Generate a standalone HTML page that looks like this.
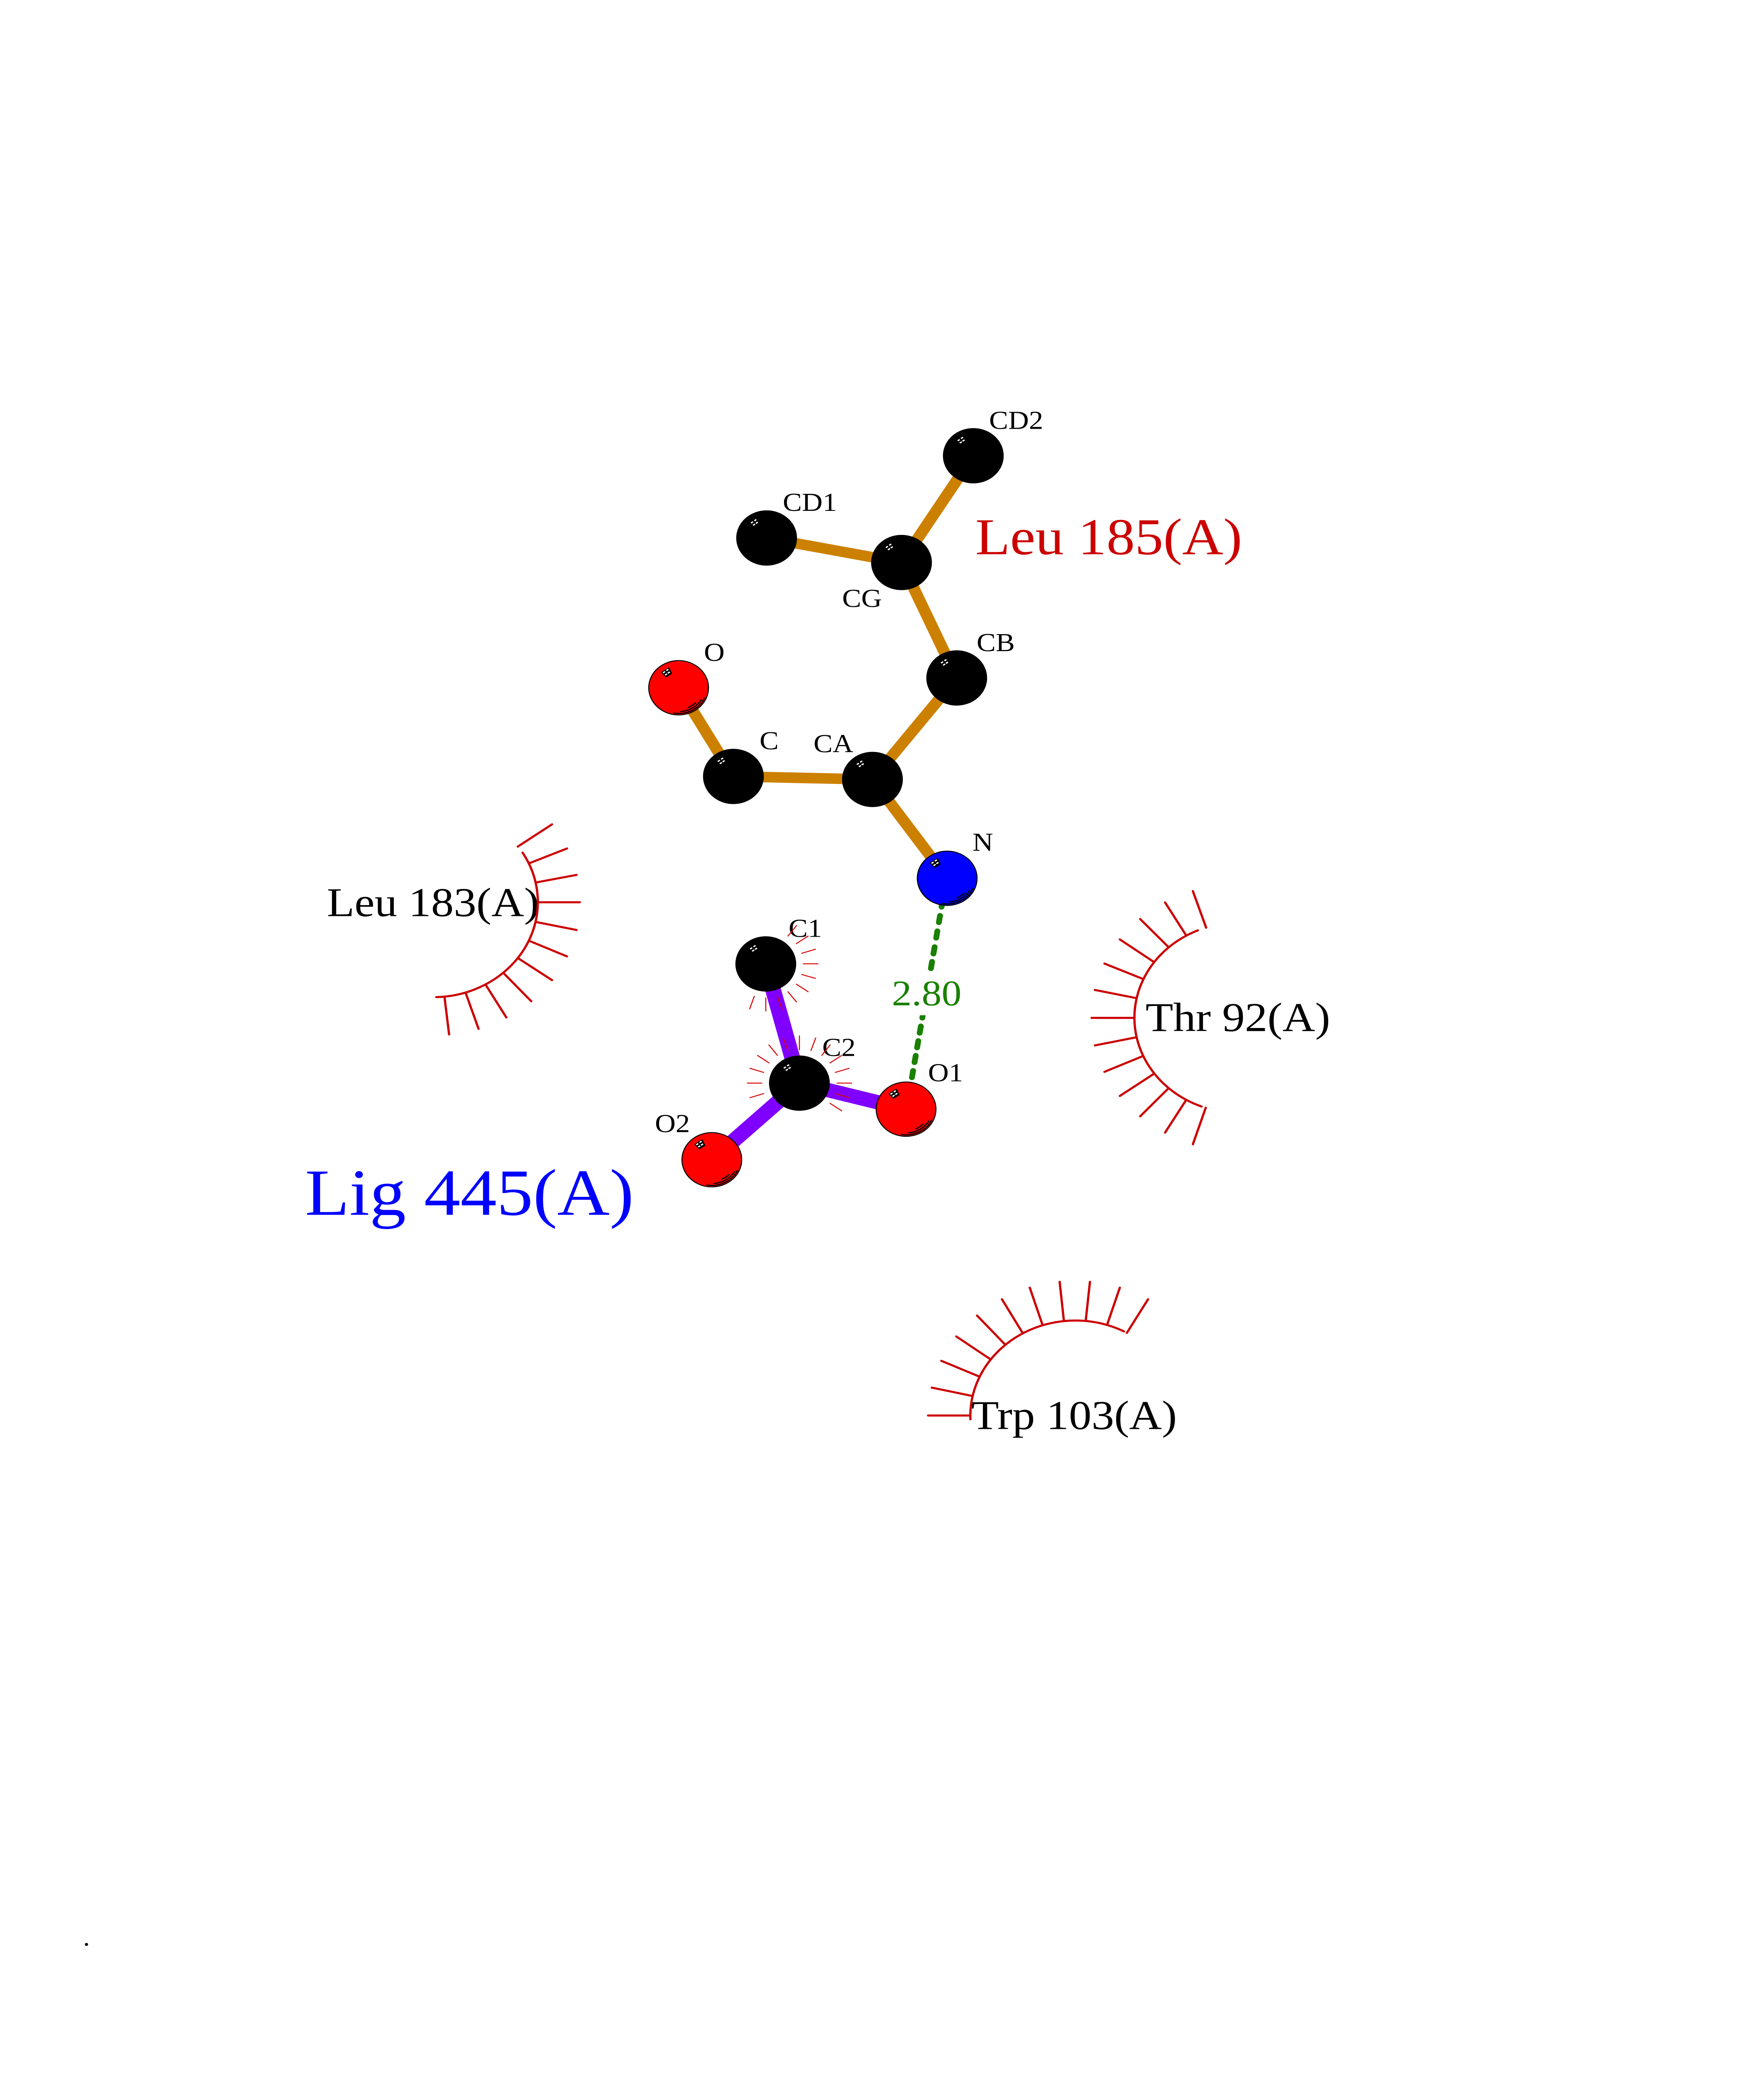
<!DOCTYPE html>
<html><head><meta charset="utf-8"><style>
html,body{margin:0;padding:0;background:#fff;width:100%;height:100%;overflow:hidden}
svg{display:block;position:fixed;left:0;top:0;width:100vw;height:100vh;overflow:hidden}
text{font-family:"Liberation Serif",serif}
.s{font-size:69px;fill:#000}
.b{font-size:109px;fill:#000}
.o{stroke:#cc8000;stroke-width:28;fill:none}
.p{stroke:#8000ff;stroke-width:38;fill:none}
.g{stroke:#1a8000;stroke-width:14;stroke-linecap:round;fill:none}
.r{stroke:#cc0000;stroke-width:5.5;stroke-linecap:round;fill:none}
.t{stroke:#d80000;stroke-width:2.5;fill:none}
</style></head><body>
<svg xmlns="http://www.w3.org/2000/svg" viewBox="0 0 4250 5500" preserveAspectRatio="none">
<defs>
<g id="ab"><circle r="72" stroke="#000" stroke-width="2.5"/>
<g transform="translate(-29,-41)"><path d="M-12 0L5.7-12L12.3 3L-1 12.3Z" fill="#000" stroke="#000" stroke-width="2" stroke-linejoin="round"/>
<g fill="#fff"><rect x="-9" y="-2" width="6" height="3.4" transform="rotate(-35 -6 0)"/><rect x="-1" y="-8" width="6" height="3.4" transform="rotate(-35 2 -6)"/><rect x="2.500" y="-1" width="6" height="3.4" transform="rotate(-35 5.5 .7)"/><rect x="-4.300" y="4" width="6" height="3.4" transform="rotate(-35 -1.3 5.7)"/></g></g></g>
<g id="as"><g fill="none" stroke="#000" stroke-width="3" stroke-linecap="round"><path d="M62.100 27.700A68 68 0 0 1-11.800 67"/><path d="M54.600 31.500A63 63 0 0 1 5.500 62.800"/><path d="M41 39.600A57 57 0 0 1 24 51.700"/></g></g>
</defs>
<rect width="4250" height="5500" fill="#fff"/>

<!-- orange bonds -->
<g class="o"><path d="M2345 1208L2172 1491"/><path d="M1847 1426L2172 1491"/><path d="M2172 1491L2305 1797"/><path d="M2305 1797L2102 2066"/><path d="M2102 2066L1767 2058"/><path d="M1767 2058L1635 1823"/><path d="M2102 2066L2282 2328"/></g>
<!-- purple bonds -->
<g class="p"><path d="M1845 2555L1926 2871"/><path d="M1926 2871L2183 2940"/><path d="M1926 2871L1715 3074"/></g>
<!-- hydrogen bond -->
<g class="g"><path d="M2271.400 2386L2268.500 2404"/><path d="M2264.900 2427L2262 2445"/><path d="M2258.400 2468L2255.600 2486"/><path d="M2251.800 2510L2248.900 2528"/><path d="M2245.600 2549L2242.800 2567"/><path d="M2224.900 2680L2222.100 2698"/><path d="M2218.600 2720L2215.800 2738"/><path d="M2212.400 2759L2209.600 2777"/><path d="M2206.300 2798L2203.400 2816"/><path d="M2200 2838L2197.100 2856"/></g>
<rect x="2200" y="2660" width="40" height="31" fill="#fff"/>
<text x="2148.500" y="2665" font-size="96" fill="#1a8000">2.80</text>

<!-- atoms -->
<use href="#ab" transform="translate(2345,1208)" fill="#000"/>
<use href="#ab" transform="translate(1847,1426)" fill="#000"/>
<use href="#ab" transform="translate(2172,1491)" fill="#000"/>
<use href="#ab" transform="translate(2305,1797)" fill="#000"/>
<use href="#ab" transform="translate(1635,1823)" fill="#ff0000"/><use href="#as" transform="translate(1635,1823)"/>
<use href="#ab" transform="translate(1767,2058)" fill="#000"/>
<use href="#ab" transform="translate(2102,2066)" fill="#000"/>
<use href="#ab" transform="translate(2282,2328)" fill="#0000ff"/><use href="#as" transform="translate(2282,2328)"/>
<use href="#ab" transform="translate(1845,2555)" fill="#000"/>
<use href="#ab" transform="translate(1926,2871)" fill="#000"/>
<use href="#ab" transform="translate(2183,2940)" fill="#ff0000"/><use href="#as" transform="translate(2183,2940)"/>
<use href="#ab" transform="translate(1715,3074)" fill="#ff0000"/><use href="#as" transform="translate(1715,3074)"/>

<!-- atom labels -->
<text class="s" x="2383" y="1137">CD2</text>
<text class="s" x="1886" y="1354">CD1</text>
<text class="s" x="2029" y="1609">CG</text>
<text class="s" x="2353" y="1726">CB</text>
<text class="s" x="1696" y="1752">O</text>
<text class="s" x="1830" y="1986">C</text>
<text class="s" x="1960" y="1994">CA</text>
<text class="s" x="2343" y="2255">N</text>
<text class="s" x="1900" y="2483">C1</text>
<text class="s" x="1981" y="2799">C2</text>
<text class="s" x="2236" y="2866">O1</text>
<text class="s" x="1578" y="3001">O2</text>

<!-- residue labels -->
<text x="2350" y="1469" font-size="137" fill="#cc0000">Leu 185(A)</text>
<text x="735" y="3220" font-size="175" fill="#0000ff">Lig 445(A)</text>
<text class="b" x="787.500" y="2428">Leu 183(A)</text>
<text class="b" x="2760" y="2733">Thr 92(A)</text>
<text class="b" x="2340" y="3788">Trp 103(A)</text>
<text x="200" y="5157" font-size="67" fill="#000">.</text>

<!-- Leu 183 hydrophobic arc -->
<g class="r">
<path d="M1259 2260A252 252 0 0 1 1051 2643"/>
<path d="M1247.500 2244L1330 2185"/><path d="M1275.500 2288L1366 2249"/><path d="M1292 2339L1389 2319"/><path d="M1297 2391.500L1397 2391.500"/><path d="M1292 2444L1389 2465"/><path d="M1275.500 2494L1366 2535"/><path d="M1248.500 2540L1330 2598"/><path d="M1213 2579L1280 2654"/><path d="M1170 2610L1220 2697"/><path d="M1122 2632L1153 2727"/><path d="M1071 2643L1082 2742"/>
</g>
<!-- Thr 92 hydrophobic arc -->
<g class="r">
<path d="M2886 2466A252 252 0 0 0 2895 2933"/>
<path d="M2906 2459L2874 2362"/><path d="M2857 2478L2807 2392"/><path d="M2814 2509L2747 2436"/><path d="M2779 2549L2698 2490"/><path d="M2752 2594L2661 2554"/><path d="M2735 2645L2638 2624"/><path d="M2732 2698L2630 2698"/><path d="M2735 2750L2638 2771"/><path d="M2752 2800L2661 2841"/><path d="M2779 2847L2698 2905"/><path d="M2814 2886L2747 2959"/><path d="M2857 2917L2807 3002"/><path d="M2905 2936L2874 3033"/>
</g>
<!-- Trp 103 hydrophobic arc -->
<g class="r">
<path d="M2338 3762A253 253 0 0 1 2708 3529"/>
<path d="M2236 3752L2337 3752"/><path d="M2245 3678L2342 3700"/><path d="M2268 3607L2359 3648.500"/><path d="M2304 3542.400L2385 3602"/><path d="M2354 3487L2420.500 3562.600"/><path d="M2414 3443.800L2463 3531.700"/><path d="M2481 3413L2511 3509.400"/><path d="M2553 3397.600L2563 3498.700"/><path d="M2626 3397.600L2616 3498.700"/><path d="M2698 3413L2668 3509.400"/><path d="M2766 3443.800L2715 3533"/>
</g>
<!-- small ticks around C1 -->
<g class="t">
<path d="M1897.800 2481.900L1919.600 2452.600"/><path d="M1917.900 2501.700L1947.800 2480.600"/><path d="M1930.500 2527.200L1965.600 2515.700"/><path d="M1934.600 2554.600L1971.900 2554.600"/><path d="M1930.500 2582.700L1965.600 2593.500"/><path d="M1917.900 2608.200L1947.800 2629.200"/><path d="M1897.800 2627.900L1919.600 2656.600"/><path d="M1872 2640L1884.600 2675"/><path d="M1845 2643.900L1845 2680.900"/><path d="M1817.500 2640L1806 2675"/>
</g>
<!-- small ticks around C2 -->
<g class="t">
<path d="M1926 2744.600L1926 2783.500"/><path d="M1953.500 2785.500L1965.600 2750.400"/><path d="M1979.300 2798.200L2000.600 2768.900"/><path d="M1998.900 2818L2028.700 2797"/><path d="M2011.500 2842.900L2046.500 2831.400"/><path d="M2016 2870.900L2052.800 2870.900"/><path d="M2011.500 2898.300L2046.500 2909.800"/><path d="M1998.900 2923.900L2028.700 2944.900"/><path d="M1899 2785.500L1886.300 2750.400"/><path d="M1873.700 2798.200L1851.900 2768.900"/><path d="M1853.600 2818L1824.300 2797"/><path d="M1841 2842.900L1806 2831.400"/><path d="M1836.400 2870.900L1799.700 2870.900"/><path d="M1841 2898.300L1806 2909.800"/>
</g>
</svg>
</body></html>
